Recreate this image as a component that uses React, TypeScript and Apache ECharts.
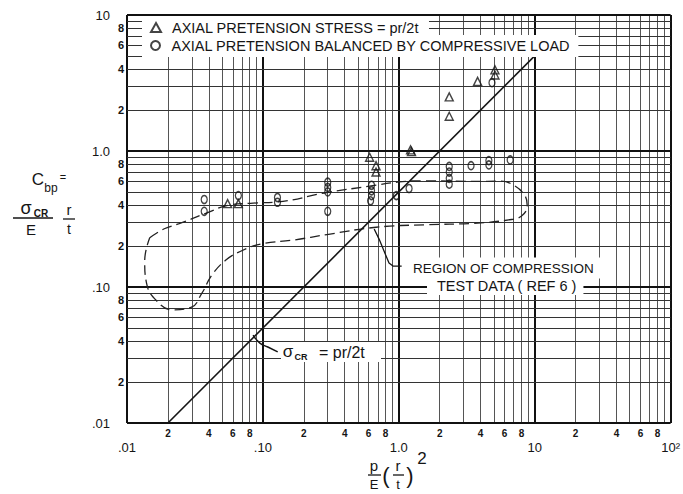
import React, { useEffect, useRef } from 'react';
import * as echarts from 'echarts';

const FONT = '"Liberation Sans", Arial, Helvetica, sans-serif';
const INK = '#151515';

const stressName = 'AXIAL PRETENSION STRESS = pr/2t';
const balancedName = 'AXIAL PRETENSION BALANCED BY COMPRESSIVE LOAD';

// Axial pretension stress = pr/2t (triangles)
const stressPoints: [number, number][] = [
  [0.055, 0.41], [0.066, 0.41],
  [0.61, 0.9], [0.68, 0.78], [0.68, 0.7],
  [1.22, 1.02], [1.24, 0.99],
  [2.35, 2.5], [2.35, 1.8],
  [3.8, 3.25], [5.1, 3.95], [5.1, 3.62],
];

// Axial pretension balanced by compressive load (circles)
const balancedPoints: [number, number][] = [
  [0.037, 0.44], [0.037, 0.36], [0.066, 0.47],
  [0.128, 0.455], [0.128, 0.42],
  [0.3, 0.59], [0.3, 0.54], [0.3, 0.5], [0.3, 0.36],
  [0.63, 0.56], [0.63, 0.51], [0.63, 0.47], [0.62, 0.43],
  [0.96, 0.47], [1.19, 0.53],
  [2.35, 0.77], [2.35, 0.7], [2.35, 0.63], [2.35, 0.57],
  [3.4, 0.78], [4.6, 0.85], [4.6, 0.79], [6.6, 0.86], [4.85, 3.18],
];

// Region of compression test data (Ref 6), closed dashed outline
const compressionRegion: [number, number][] = [
  [0.0147, 0.23], [0.0188, 0.268], [0.0242, 0.292], [0.038, 0.348], [0.0557, 0.399],
  [0.0847, 0.414], [0.1285, 0.422], [0.296, 0.495], [0.607, 0.551], [1.0, 0.592],
  [1.58, 0.604], [3.6, 0.597], [5.63, 0.6], [6.98, 0.561], [8.4, 0.475],
  [8.8, 0.401], [8.0, 0.333], [6.32, 0.311], [3.54, 0.294], [1.58, 0.287],
  [0.681, 0.275], [0.296, 0.243], [0.171, 0.222], [0.0967, 0.207], [0.0693, 0.184],
  [0.0531, 0.157], [0.042, 0.1217], [0.0355, 0.0897], [0.0296, 0.0707], [0.0215, 0.068],
  [0.0165, 0.0792], [0.01395, 0.1057], [0.0135, 0.156], [0.0147, 0.23],
];

// sigma_CR = pr/2t
const theoryLine: [number, number][] = [[0.02, 0.01], [10, 5]];

const sigmaLeader: [number, number][] = [[0.0847, 0.0443], [0.095, 0.0387], [0.1087, 0.0362], [0.1285, 0.0333]];
const regionLeader: [number, number][] = [[0.659, 0.267], [0.716, 0.225], [0.847, 0.15], [0.906, 0.1426], [1.05, 0.1426]];

const gridDecadesX = [0.01, 0.1, 1, 10];
const gridDecadesY = [0.01, 0.1, 1];
const gridSteps = [1, 2, 3, 4, 5, 6, 7, 8, 9];
const xMax = 100;
const yMax = 10;

const xMajorTicks = [0.01, 0.1, 1, 10, 100];
const xMajorLabels = ['.01', '.10', '1.0', '10', '10²'];
const xMinorTicks = [0.02, 0.04, 0.06, 0.08, 0.2, 0.4, 0.6, 0.8, 2, 4, 6, 8, 20, 40, 60, 80];
const xMinorLabels = ['2', '4', '6', '8', '2', '4', '6', '8', '2', '4', '6', '8', '2', '4', '6', '8'];
const yMajorTicks = [0.01, 0.1, 1, 10];
const yMajorLabels = ['.01', '.10', '1.0', '10'];
const yMinorTicks = [0.02, 0.04, 0.06, 0.08, 0.2, 0.4, 0.6, 0.8, 2, 4, 6, 8];
const yMinorLabels = ['2', '4', '6', '8', '2', '4', '6', '8', '2', '4', '6', '8'];

const lookup = (ticks: number[], labels: string[]) => (v: number) => {
  let best = 0;
  let bd = Infinity;
  ticks.forEach((t, k) => {
    const d = Math.abs(Math.log10(t) - Math.log10(v));
    if (d < bd) { bd = d; best = k; }
  });
  return labels[best];
};

const majorStyle = { color: '#111', width: 2, type: 'solid' as const };
const minorHStyle = { color: '#333', width: 1.1, type: 'solid' as const };
const minorVStyle = { color: '#555', width: 1, type: 'solid' as const };

function buildGridLines() {
  const out: any[] = [];
  gridDecadesX.forEach((d) => gridSteps.forEach((s) => {
    out.push({ xAxis: d * s, lineStyle: s === 1 ? majorStyle : minorVStyle });
  }));
  out.push({ xAxis: xMax, lineStyle: majorStyle });
  gridDecadesY.forEach((d) => gridSteps.forEach((s) => {
    out.push({ yAxis: d * s, lineStyle: s === 1 ? majorStyle : minorHStyle });
  }));
  out.push({ yAxis: yMax, lineStyle: majorStyle });
  return out;
}

const baseAxis = {
  type: 'log' as const,
  logBase: 10,
  axisLine: { show: false },
  axisTick: { show: false },
  splitLine: { show: false },
  minorTick: { show: false },
  minorSplitLine: { show: false },
};

const txt = (text: string, x: number, y: number, size: number, extra: any = {}) => ({
  type: 'text',
  x,
  y,
  z: 100,
  style: {
    text,
    font: `${extra.weight || 'normal'} ${size}px ${FONT}`,
    fill: INK,
    align: extra.align || 'center',
    verticalAlign: 'middle',
    backgroundColor: extra.bg,
    padding: extra.padding,
  },
});

const seg = (x1: number, y1: number, x2: number, y2: number, w = 1.3) => ({
  type: 'line',
  z: 100,
  shape: { x1, y1, x2, y2 },
  style: { stroke: INK, lineWidth: w },
});

export default function App() {
  const ref = useRef<HTMLDivElement>(null);

  useEffect(() => {
    if (!ref.current) return;
    const chart = echarts.init(ref.current, null, { renderer: 'svg' });

    const legendCommon = {
      orient: 'vertical' as const,
      left: 142,
      backgroundColor: '#fff',
      itemWidth: 10,
      itemHeight: 9,
      selectedMode: false,
      formatter: '{t|{name}}',
      textStyle: {
        fontSize: 14.5,
        fontFamily: FONT,
        color: INK,
        rich: { t: { fontSize: 14.5, fontFamily: FONT, color: INK, padding: [0, 0, 0, 6] } },
      },
    };

    const option: any = {
      animation: false,
      backgroundColor: '#fff',
      grid: { left: 127, right: 9, top: 15, bottom: 71, show: false },
      xAxis: [
        {
          ...baseAxis, min: 0.01, max: 100, position: 'bottom',
          axisLabel: {
            customValues: xMinorTicks, formatter: lookup(xMinorTicks, xMinorLabels),
            margin: 5, fontSize: 10, fontWeight: 'bold', fontFamily: FONT, color: INK,
          },
        },
        {
          ...baseAxis, min: 0.01, max: 100, position: 'bottom',
          axisLabel: {
            customValues: xMajorTicks, formatter: lookup(xMajorTicks, xMajorLabels),
            margin: 18, fontSize: 13, fontFamily: FONT, color: INK,
          },
        },
      ],
      yAxis: [
        {
          ...baseAxis, min: 0.01, max: 10, position: 'left',
          axisLabel: {
            customValues: yMinorTicks, formatter: lookup(yMinorTicks, yMinorLabels),
            margin: 3, fontSize: 11, fontWeight: 'bold', fontFamily: FONT, color: INK,
          },
        },
        {
          ...baseAxis, min: 0.01, max: 10, position: 'left',
          axisLabel: {
            customValues: yMajorTicks, formatter: lookup(yMajorTicks, yMajorLabels),
            margin: 17, fontSize: 13, fontFamily: FONT, color: INK,
          },
        },
      ],
      legend: [
        { ...legendCommon, top: 16, padding: [4, 10, 3, 8], data: [{ name: stressName, icon: 'triangle' }] },
        { ...legendCommon, top: 35, padding: [3, 8, 4, 8], data: [{ name: balancedName, icon: 'circle' }] },
      ],
      series: [
        {
          name: 'grid',
          type: 'line',
          data: [],
          clip: false,
          silent: true,
          z: 1,
          markLine: {
            silent: true,
            z: 1,
            symbol: ['none', 'none'],
            label: { show: false },
            emphasis: { disabled: true },
            data: buildGridLines(),
          },
        },
        {
          name: 'region',
          type: 'line',
          data: compressionRegion,
          smooth: 0.45,
          symbol: 'none',
          silent: true,
          z: 3,
          lineStyle: { color: '#222', width: 1.3, type: [10, 5] },
        },
        {
          name: 'theory',
          type: 'line',
          data: theoryLine,
          symbol: 'none',
          silent: true,
          z: 3,
          lineStyle: { color: INK, width: 1.6 },
        },
        {
          name: 'sigmaLeader',
          type: 'line',
          data: sigmaLeader,
          smooth: 0.5,
          symbol: 'none',
          silent: true,
          z: 3,
          lineStyle: { color: INK, width: 1.5 },
        },
        {
          name: 'regionLeader',
          type: 'line',
          data: regionLeader,
          symbol: 'none',
          silent: true,
          z: 3,
          lineStyle: { color: INK, width: 1.3 },
        },
        {
          name: stressName,
          type: 'scatter',
          data: stressPoints,
          symbol: 'triangle',
          symbolSize: 8,
          z: 5,
          itemStyle: { color: 'rgba(255,255,255,0)', borderColor: INK, borderWidth: 1.4 },
        },
        {
          name: balancedName,
          type: 'scatter',
          data: balancedPoints,
          symbol: 'circle',
          symbolSize: [6, 8],
          z: 5,
          itemStyle: { color: 'rgba(255,255,255,0)', borderColor: INK, borderWidth: 1.4 },
        },
      ],
      graphic: [
        // y-axis title: C_bp = (sigma_CR / E)(r / t)
        txt('C', 38, 179, 17),
        txt('bp', 51, 188, 12),
        txt('=', 63, 177, 11),
        txt('σ', 26, 208, 18),
        txt('CR', 41, 213, 10, { weight: 'bold' }),
        seg(13, 218, 53, 218),
        txt('E', 31, 229, 15),
        txt('r', 69, 209, 15),
        seg(63, 219, 75, 219),
        txt('t', 69, 229, 14),
        // x-axis title: p/E (r/t)^2
        txt('p', 374, 465, 15),
        seg(368, 475, 381, 475),
        txt('E', 374, 484, 13),
        txt('(', 386, 475, 22),
        txt('r', 398, 465, 15),
        seg(393, 475, 404, 475),
        txt('t', 398, 484, 13),
        txt(')', 410, 475, 22),
        txt('2', 422, 458, 17),
        // sigma_CR = pr/2t annotation
        { type: 'rect', z: 99, shape: { x: 281, y: 342, width: 100, height: 20 }, style: { fill: '#fff' } },
        txt('σ', 288, 351, 17),
        txt('CR', 301, 357, 9, { weight: 'bold' }),
        txt('= pr/2t', 319, 352, 16, { align: 'left' }),
        // region annotation
        txt('REGION OF COMPRESSION', 405, 268, 13.5, { align: 'left', bg: '#fff', padding: [4, 10, 3, 8] }),
        txt('TEST DATA ( REF 6 )', 427, 286, 14.5, { align: 'left', bg: '#fff', padding: [1, 6, 2, 10] }),
      ],
    };

    chart.setOption(option);
    return () => chart.dispose();
  }, []);

  return (
    <div
      ref={ref}
      style={{ position: 'fixed', left: 0, top: 0, width: 683, height: 494, background: '#fff' }}
    />
  );
}
